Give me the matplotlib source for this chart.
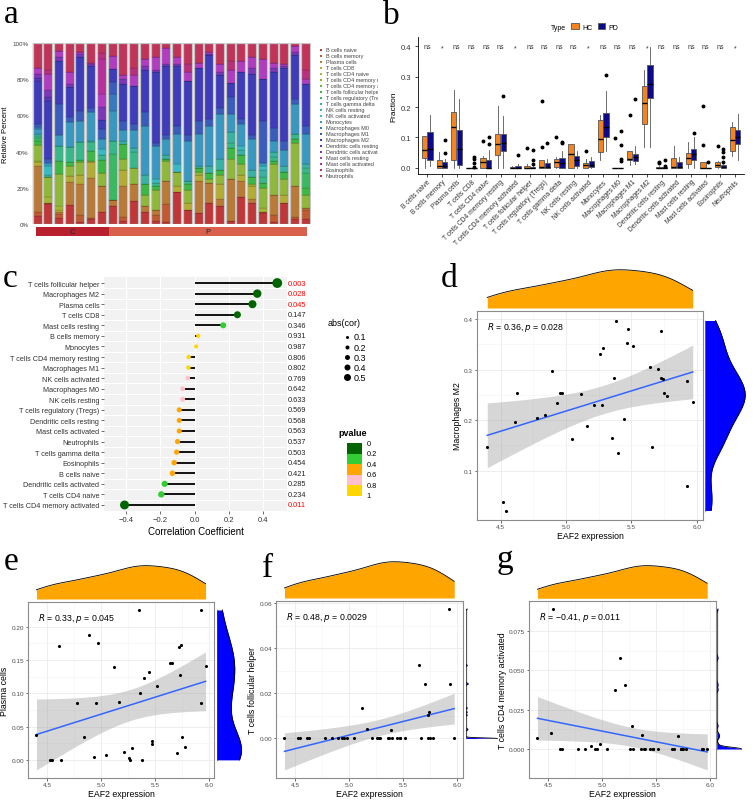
import numpy as np
import matplotlib.pyplot as plt
from matplotlib.patches import Rectangle, Patch

plt.rcParams['font.family'] = ['Liberation Sans', 'DejaVu Sans']
plt.rcParams['path.simplify'] = False

W, H = 753, 804

# ---------------- data ----------------
cell_types = ["B cells naive", "B cells memory", "Plasma cells", "T cells CD8", "T cells CD4 naive",
              "T cells CD4 memory resting", "T cells CD4 memory activated", "T cells follicular helper",
              "T cells regulatory (Tregs)", "T cells gamma delta", "NK cells resting", "NK cells activated",
              "Monocytes", "Macrophages M0", "Macrophages M1", "Macrophages M2", "Dendritic cells resting",
              "Dendritic cells activated", "Mast cells resting", "Mast cells activated", "Eosinophils",
              "Neutrophils"]
cell_colors = ["#c0373a", "#c05a32", "#b87a36", "#b4ad34", "#a5b634", "#8fb83a", "#63b83c", "#3db844",
               "#3ab862", "#38b88a", "#38b2a2", "#38bac2", "#3898c0", "#3878bc", "#3a5cbc", "#3e3cb8",
               "#5838b8", "#7c38b8", "#b03cc0", "#b8309c", "#b8307c", "#c0345a"]

# panel a: relative percent of each cell type in the 26 samples
sample_group = ["C"] * 7 + ["P"] * 19
pct_b_naive = [4.8, 11, 3.3, 10.6, 1, 3, 7.2, 10.3, 2, 13, 7, 2, 1, 18, 8, 6, 12, 10, 2, 15, 12, 6, 1, 12, 3, 3]
pct_b_memory = [2.2, 0.5, 2.4, 0, 4, 0.5, 0, 0, 2, 0, 0, 3, 10, 0, 0, 0, 0, 0, 0, 0, 0, 1, 4, 0, 1, 5]
pct_plasma = [25.3, 0, 0.9, 12.8, 17.4, 22, 14.5, 3.1, 17, 9, 3, 3, 13, 0, 0, 18, 11, 4, 23, 9, 2, 0, 11, 0, 17, 1]
pct_cd8 = [1.8, 0.5, 1.3, 3.3, 4.6, 8.6, 0, 0, 9, 0, 0, 0, 0, 3, 4, 3, 0, 8, 0, 3, 7, 0, 0, 4, 0, 0]
pct_cd4_naive = [0.9, 3, 2, 0, 0, 0, 0, 0, 0, 0, 0, 0, 0, 0, 0, 0, 0, 0, 0, 0, 0, 2, 0, 0, 0, 0]
pct_cd4_mem_rest = [8.6, 11, 17.8, 5.5, 7.3, 1, 7.3, 0, 6, 9, 6, 11, 11, 8, 7, 2, 2, 5, 11, 6, 1, 11, 17, 9, 24, 7]
pct_cd4_mem_act = [0] * 26
pct_tfh = [2.4, 0, 7.3, 1.8, 1, 5.5, 7, 0, 8, 0, 6, 2, 1, 0, 3, 2, 3, 3, 6, 5, 4, 3, 2, 4, 2, 4]
pct_tregs = [1.6, 0, 0, 0, 0, 0, 0, 25.3, 0, 0, 0, 0, 0, 0, 0, 0, 0, 0, 0, 0, 0, 0, 0, 0, 0, 8]
pct_gamma_delta = [1.1, 0, 8.3, 8.3, 10, 4.5, 3.1, 7.3, 0, 9, 0, 2, 0, 0, 2, 0, 0, 0, 3, 0, 0, 3, 2, 0, 3, 3]
pct_nk_rest = [0.9, 1, 0, 0, 0, 1, 0, 0, 2, 2, 5, 0, 2, 0, 0, 1, 4, 6, 6, 3, 4, 4, 3, 3, 0, 2]
pct_nk_act = [0, 5, 0, 0, 0, 0, 3.3, 0, 0, 0, 0, 2, 0, 4, 0, 0, 0, 0, 0, 2, 0, 2, 0, 0, 0, 0]
pct_monocytes = [3.1, 2, 5.9, 14.1, 11.9, 16, 5.5, 16.5, 6, 10, 27, 18, 9, 17, 22, 18, 22, 25, 10, 12, 17, 2, 6, 9, 16, 17]
pct_m0 = [0.9, 0, 0, 0, 0, 0, 0, 9.2, 0, 0, 0, 0, 0, 0, 0, 0, 0, 0, 0, 0, 0, 0, 0, 0, 0, 0]
pct_m1 = [1.5, 2, 17, 2.8, 5.5, 2.2, 5.5, 6.4, 5, 3, 8, 2, 2, 4, 3, 7, 4, 3, 9, 3, 2, 23, 7, 5, 3, 4]
pct_m2 = [23.9, 32, 23.9, 16.5, 29.4, 22.6, 5.5, 7.3, 20, 21, 23, 39, 38, 33, 30, 29, 35, 18, 8, 26, 34, 23, 31, 40, 24, 23]
pct_dc_rest = [1.3, 2, 0, 0, 0, 0, 0, 0, 0, 0, 0, 0, 0, 0, 0, 0, 0, 0, 0, 0, 0, 0, 0, 0, 0, 0]
pct_dc_act = [2.4, 4, 1.8, 1.5, 1.8, 1.1, 7.3, 0, 3, 0, 2, 1, 1, 1, 0, 0, 1, 2, 0, 0, 3, 0, 2, 1, 2, 0]
pct_mast_rest = [3.1, 9, 3.7, 6.4, 1.3, 1, 7, 7.3, 2, 6, 4, 7, 9, 4, 5, 3, 1, 4, 7, 6, 6, 11, 3, 1, 3, 3]
pct_mast_act = [0, 0, 0, 0, 0, 0, 20, 0, 0, 0, 0, 0, 0, 0, 0, 0, 0, 0, 0, 0, 0, 0, 0, 0, 0, 0]
pct_eosinophils = [0, 2, 0, 0, 0, 0, 3, 0, 0, 4, 0, 0, 0, 0, 4, 0, 0, 0, 5, 0, 0, 0, 0, 0, 0, 5]
pct_neutrophils = [14.1, 15, 4.4, 16.3, 5, 11, 6, 7.2, 18, 14, 9, 8, 3, 8, 12, 11, 5, 12, 10, 10, 8, 9, 11, 12, 2, 15]

# panel b: box statistics (q1, median, q3, lower whisker, upper whisker) + outliers
hc_q1 = [.032, 0, .027, 0, 0, .043, 0, 0, 0, .002, 0, 0, .052, 0, .025, .143, 0, 0, .013, 0, .003, .055]
hc_med = [.060, .005, .135, 0, .018, .080, 0, .001, .002, .020, .045, .008, .095, 0, .030, .212, .001, .004, .032, 0, .008, .093]
hc_q3 = [.106, .025, .183, 0, .032, .112, .004, .006, .026, .030, .077, .016, .158, 0, .056, .270, .004, .032, .048, .020, .020, .135]
hc_lo = [0, 0, 0, 0, 0, 0, 0, 0, 0, 0, 0, 0, .025, 0, .010, .070, 0, 0, 0, 0, 0, .040]
hc_hi = [.106, .052, .255, 0, .040, .205, .006, .012, .026, .035, .077, .030, .175, 0, .056, .320, .006, .073, .085, .020, .022, .152]
hc_out = [[], [], [], [], [.088], [], [], [.067], [.22, .07], [.101], [], [.057], [], [.098], [.174], [],
          [.02, .017], [], [], [.203, .076], [.073], []]
pd_q1 = [.025, 0, .010, 0, 0, .055, 0, 0, 0, 0, .007, .002, .100, 0, .023, .228, 0, 0, .025, 0, 0, .077]
pd_med = [.063, .005, .063, 0, 0, .083, .001, 0, .002, .017, .027, .009, .135, 0, .037, .277, 0, .003, .045, 0, .002, .102]
pd_q3 = [.118, .020, .123, 0, .027, .110, .005, .003, .015, .032, .040, .023, .180, 0, .047, .338, .003, .020, .063, 0, .010, .123]
pd_lo = [.005, 0, 0, 0, 0, 0, 0, 0, 0, 0, 0, 0, .057, 0, .012, .068, 0, 0, 0, 0, 0, .025]
pd_hi = [.175, .030, .225, 0, .060, .170, .012, .006, .030, .055, .055, .035, .252, 0, .072, .397, .005, .037, .100, 0, .012, .178]
pd_out = [[], [.048, .093], [], [.035, .03, .015, .004], [.1, .08], [.236], [.041], [.058, .025, .013], [.083],
          [.085, .082], [], [], [.306], [.122, .074, .029, .022], [.226], [], [.027, .007], [], [.115], [.018],
          [.063, .052, .035, .02], []]
signif = ["ns", "*", "ns", "ns", "ns", "ns", "*", "ns", "ns", "ns", "ns", "*", "ns", "ns", "ns", "*", "ns",
          "ns", "ns", "ns", "ns", "*"]

# panel c: correlation of EAF2 with each cell type
cor_names = ["T cells follicular helper", "Macrophages M2", "Plasma cells", "T cells CD8", "Mast cells resting",
             "B cells memory", "Monocytes", "T cells CD4 memory resting", "Macrophages M1", "NK cells activated",
             "Macrophages M0", "NK cells resting", "T cells regulatory (Tregs)", "Dendritic cells resting",
             "Mast cells activated", "Neutrophils", "T cells gamma delta", "Eosinophils", "B cells naive",
             "Dendritic cells activated", "T cells CD4 naive", "T cells CD4 memory activated"]
cor_values = [0.483, 0.366, 0.338, 0.25, 0.167, 0.021, 0.009, -0.035, -0.036, -0.04, -0.07, -0.07, -0.09,
              -0.09, -0.09, -0.10, -0.105, -0.12, -0.13, -0.175, -0.195, -0.41]
cor_pvalues = [0.003, 0.028, 0.045, 0.147, 0.346, 0.931, 0.987, 0.806, 0.802, 0.769, 0.642, 0.633, 0.569,
               0.568, 0.563, 0.537, 0.503, 0.454, 0.421, 0.285, 0.234, 0.011]
p_breaks = [0, 0.2, 0.4, 0.6, 0.8, 1]
p_colors = ["#006400", "#32CD32", "#FFA500", "#FFC0CB", "#FFD700"]

# panels d-g: EAF2 expression vs cell fractions (37 samples)
eaf2 = [4.398, 4.521, 4.540, 4.607, 4.629, 4.776, 4.838, 4.890, 4.930, 4.952, 4.973, 5.044, 5.118, 5.161,
        5.213, 5.257, 5.272, 5.287, 5.355, 5.364, 5.380, 5.398, 5.444, 5.469, 5.472, 5.515, 5.641, 5.659,
        5.703, 5.724, 5.730, 5.739, 5.749, 5.776, 5.924, 5.927, 5.970]
macro_m2 = [0.147, 0.038, 0.021, 0.196, 0.253, 0.204, 0.210, 0.298, 0.234, 0.254, 0.254, 0.162, 0.252,
            0.189, 0.229, 0.330, 0.230, 0.342, 0.165, 0.283, 0.397, 0.135, 0.203, 0.353, 0.381, 0.347,
            0.305, 0.147, 0.302, 0.283, 0.376, 0.281, 0.253, 0.248, 0.069, 0.277, 0.235]
plasma = [0.037, 0.0, 0.0, 0.171, 0.0, 0.086, 0.034, 0.188, 0.004, 0.085, 0.175, 0.008, 0.139, 0.087, 0.012,
          0.003, 0.0, 0.018, 0.225, 0.101, 0.0, 0.123, 0.132, 0.029, 0.024, 0.111, 0.145, 0.146, 0.010,
          0.169, 0.128, 0.172, 0.034, 0.019, 0.225, 0.085, 0.141]
tfh = [0, 0, 0, 0, 0, 0, 0, 0, 0, 0, 0, 0, 0.0135, 0.0042, 0, 0, 0, 0, 0, 0, 0.0039, 0, 0, 0, 0, 0, 0.0324,
       0, 0.0242, 0.0104, 0, 0.0117, 0, 0, 0.0573, 0.0243, 0]
cd4_mem_act = [0.007, 0.0099, 0.089, 0, 0, 0, 0, 0.0018, 0, 0, 0.0033, 0, 0.0378, 0.058, 0.041, 0, 0.0148,
               0, 0, 0.0088, 0, 0, 0, 0, 0, 0, 0, 0, 0.008, 0, 0, 0, 0, 0, 0, 0, 0]
stat_r = ["0.36", "0.33", "0.48", "\u22120.41"]
stat_p = ["0.028", "0.045", "0.0029", "0.011"]


def rect(l, t, r, b):
    return [l / W, 1 - b / H, (r - l) / W, (b - t) / H]


fig = plt.figure(figsize=(W / 100, H / 100), dpi=100)

letter_font = dict(family=['Liberation Serif', 'DejaVu Serif'], fontsize=24)
for lab, x, y in [("a", 4, 23), ("b", 383, 24), ("c", 3, 287), ("d", 441, 287), ("e", 4, 570),
                  ("f", 262, 577), ("g", 497, 568)]:
    fig.text(x / W, 1 - y / H, lab, va='baseline', ha='left', **letter_font)

# ---------------- a: stacked bars ----------------
comp = np.array([pct_b_naive, pct_b_memory, pct_plasma, pct_cd8, pct_cd4_naive, pct_cd4_mem_rest,
                 pct_cd4_mem_act, pct_tfh, pct_tregs, pct_gamma_delta, pct_nk_rest, pct_nk_act,
                 pct_monocytes, pct_m0, pct_m1, pct_m2, pct_dc_rest, pct_dc_act, pct_mast_rest,
                 pct_mast_act, pct_eosinophils, pct_neutrophils], dtype=float)
comp = comp / comp.sum(axis=0)
n_samp = comp.shape[1]
idx = np.arange(n_samp)

ax_a = fig.add_axes(rect(31.7, 43.7, 310.7, 225.3))
bottom = np.zeros(n_samp)
for k in range(len(cell_types)):
    ax_a.bar(idx, comp[k], bottom=bottom, width=0.84, color=cell_colors[k],
             edgecolor=(0, 0, 0, 0.3), linewidth=0.3)
    bottom += comp[k]
ax_a.bar(idx, np.ones(n_samp), width=0.84, fill=False, edgecolor='#c4c4c4', linewidth=0.9)
ax_a.set_xlim(-0.5, n_samp - 0.5)
ax_a.set_ylim(0, 1)
ax_a.set_xticks([])
ax_a.set_yticks([0, 0.2, 0.4, 0.6, 0.8, 1.0])
ax_a.set_yticklabels(["0%", "20%", "40%", "60%", "80%", "100%"])
ax_a.tick_params(axis='y', length=0, labelsize=4.5, labelcolor='#444444', pad=2)
ax_a.set_ylabel("Relative Percent", fontsize=5.5, labelpad=3)
for s in ax_a.spines.values():
    s.set_visible(False)

ax_grp = fig.add_axes(rect(36, 227.7, 306.7, 236.7))
grp_col = {"C": "#b8202e", "P": "#d9604c"}
ax_grp.bar(idx, np.ones(n_samp), width=1.0, color=[grp_col[g] for g in sample_group], linewidth=0)
for g in ["C", "P"]:
    members = [i for i, v in enumerate(sample_group) if v == g]
    ax_grp.text(np.mean(members), 0.5, g, ha='center', va='center', fontsize=5.5, color='#222222')
ax_grp.set_xlim(-0.5, n_samp - 0.5)
ax_grp.set_ylim(0, 1)
ax_grp.axis('off')

ax_al = fig.add_axes(rect(316, 45, 378, 190))
ax_al.set_xlim(316, 378)
ax_al.set_ylim(190, 45)
ax_al.axis('off')
for i, (name, col) in enumerate(zip(cell_types, cell_colors)):
    yy = 50.7 + i * 6.0
    ax_al.add_patch(Rectangle((319.5, yy - 1.1), 2.4, 2.2, color=col, lw=0))
    ax_al.text(326, yy, name, fontsize=4, va='center', ha='left', color='#444444', clip_on=True)

# ---------------- b: boxplots ----------------
ax_b = fig.add_axes(rect(418.5, 38, 743.8, 175))
pos = np.arange(1, len(cell_types) + 1)


def make_stats(q1, med, q3, lo, hi, out):
    return [dict(q1=a, med=b, q3=c, whislo=d, whishi=e, fliers=f)
            for a, b, c, d, e, f in zip(q1, med, q3, lo, hi, out)]


for st, off, col in [(make_stats(hc_q1, hc_med, hc_q3, hc_lo, hc_hi, hc_out), -0.19, "#F5841F"),
                     (make_stats(pd_q1, pd_med, pd_q3, pd_lo, pd_hi, pd_out), 0.19, "#0B0B8A")]:
    ax_b.bxp(st, positions=pos + off, widths=0.36, patch_artist=True, showcaps=False,
             boxprops=dict(facecolor=col, edgecolor='#555555', linewidth=0.6),
             medianprops=dict(color='black', linewidth=1.0),
             whiskerprops=dict(color='#555555', linewidth=0.6),
             flierprops=dict(marker='o', markersize=1.8, markerfacecolor='black', markeredgecolor='black'))
for p, s in zip(pos, signif):
    ax_b.text(p, 0.40 if s == "ns" else 0.395, s, ha='center', va='center', fontsize=5, color='#333333')
ax_b.set_xlim(0.4, len(cell_types) + 0.6)
ax_b.set_ylim(-0.02, 0.43)
ax_b.set_xticks(pos)
ax_b.set_xticklabels(cell_types, rotation=45, ha='right', rotation_mode='anchor', fontsize=4.8,
                     color='#333333')
ax_b.set_yticks([0, 0.1, 0.2, 0.3, 0.4])
ax_b.set_yticklabels(["0.0", "0.1", "0.2", "0.3", "0.4"])
ax_b.tick_params(axis='y', labelsize=5.5, length=2, width=0.5, labelcolor='#333333')
ax_b.tick_params(axis='x', length=2, width=0.5, pad=1)
ax_b.set_ylabel("Fraction", fontsize=6, labelpad=2)
ax_b.spines['top'].set_visible(False)
ax_b.spines['right'].set_visible(False)
for s in ['left', 'bottom']:
    ax_b.spines[s].set_linewidth(0.6)
fig.text(551 / W, 1 - 28 / H, "Type", fontsize=5, va='center', ha='left')
ax_b.legend([Patch(facecolor="#F5841F", edgecolor='#555555', lw=0.6),
             Patch(facecolor="#0B0B8A", edgecolor='#555555', lw=0.6)], ["HC", "PD"],
            ncol=2, loc='center left', bbox_to_anchor=(568 / W, 1 - 28 / H), bbox_transform=fig.transFigure,
            frameon=False, fontsize=5, handlelength=1.1, handleheight=0.9, handletextpad=0.4,
            columnspacing=0.8, borderpad=0)

# ---------------- c: lollipop ----------------
def p_color(p):
    for k in range(len(p_colors)):
        if p < p_breaks[k + 1] or k == len(p_colors) - 1:
            return p_colors[k]


def dot_size(r):
    return ((4 + 12 * abs(r)) * 0.72) ** 2


ax_c = fig.add_axes(rect(104, 277.7, 287, 512.3))
ax_c.set_facecolor('#F2F2F2')
rows = np.arange(len(cor_names))
ax_c.hlines(rows, 0, cor_values, color='black', lw=1.3, zorder=3)
ax_c.scatter(cor_values, rows, s=[dot_size(r) for r in cor_values], c=[p_color(p) for p in cor_pvalues],
             zorder=4, linewidths=0)
ax_c.set_xlim(-0.53, 0.54)
ax_c.set_ylim(len(cor_names) - 0.4, -0.6)
ax_c.set_xticks([-0.4, -0.2, 0.0, 0.2, 0.4])
ax_c.set_xticklabels(["\u22120.4", "\u22120.2", "0.0", "0.2", "0.4"])
ax_c.set_yticks(rows)
ax_c.set_yticklabels(cor_names)
ax_c.set_yticks(rows[:-1] + 0.5, minor=True)
ax_c.grid(axis='x', which='major', color='white', lw=0.8, zorder=0)
ax_c.grid(axis='y', which='minor', color='white', lw=0.8, zorder=0)
ax_c.set_axisbelow(True)
ax_c.tick_params(axis='both', which='major', length=2, width=0.5, color='#333333')
ax_c.tick_params(axis='y', which='minor', length=0)
ax_c.tick_params(axis='y', labelsize=5.2, labelcolor='#333333', pad=1.5)
ax_c.tick_params(axis='x', labelsize=5.5, labelcolor='#333333', pad=1.5)
ax_c.set_xlabel("Correlation Coefficient", fontsize=7, labelpad=2)
for s in ax_c.spines.values():
    s.set_visible(False)
for r, p in zip(rows, cor_pvalues):
    ax_c.text(1.005, r, "%.3f" % p, transform=ax_c.get_yaxis_transform(), fontsize=5.3, va='center',
              ha='left', color='#FF0000' if p < 0.05 else '#222222', clip_on=False)

ax_cl = fig.add_axes(rect(322, 310, 378, 505))
ax_cl.set_xlim(322, 378)
ax_cl.set_ylim(505, 310)
ax_cl.axis('off')
ax_cl.text(328, 323.5, "abs(cor)", fontsize=6.5, va='center', ha='left')
for i, v in enumerate([0.1, 0.2, 0.3, 0.4, 0.5]):
    ax_cl.scatter([347], [338 + i * 10.1], s=((2 + 10 * v) * 0.72) ** 2, color='black', linewidths=0)
    ax_cl.text(353.5, 338 + i * 10.1, "%.1f" % v, fontsize=6.5, va='center', ha='left')
ax_cl.text(338, 433, "pvalue", fontsize=6.5, fontweight='bold', va='center', ha='left')
for i, col in enumerate(p_colors):
    ax_cl.add_patch(Rectangle((346.5, 444 + i * 10.6), 15, 10.6, color=col, lw=0))
for i, b in enumerate(p_breaks):
    ax_cl.text(366.5, 444 + i * 10.6, "%g" % b, fontsize=5.3, va='center', ha='left')


# ---------------- d-g: scatter with marginal densities ----------------
def kde(v, grid):
    v = np.asarray(v, dtype=float)
    n = len(v)
    q25, q75 = np.percentile(v, [25, 75])
    lo = min(v.std(ddof=1), (q75 - q25) / 1.34)
    if lo == 0:
        lo = 0.05 * v.std(ddof=1)  # almost all zeros -> spike, as drawn in the original
    bw = 0.9 * lo * n ** -0.2
    z = (grid[:, None] - v[None, :]) / bw
    return np.exp(-0.5 * z ** 2).sum(axis=1) / (n * bw * np.sqrt(2 * np.pi))


def scatter_panel(r_main, r_top, r_right, yv, ylabel, rtxt, ptxt, yticks, yfmt):
    x = np.array(eaf2)
    y = np.array(yv, dtype=float)
    n = len(x)
    ax = fig.add_axes(rect(*r_main))
    slope, icpt = np.polyfit(x, y, 1)
    xs = np.linspace(x.min(), x.max(), 100)
    fit = icpt + slope * xs
    resid = y - (icpt + slope * x)
    s = np.sqrt((resid ** 2).sum() / (n - 2))
    se = s * np.sqrt(1 / n + (xs - x.mean()) ** 2 / ((x - x.mean()) ** 2).sum())
    t = 2.03  # t(0.975, df=35)
    ax.fill_between(xs, fit - t * se, fit + t * se, color='#999999', alpha=0.4, lw=0, zorder=2)
    ax.plot(xs, fit, color='#3366FF', lw=1.1, zorder=3)
    ax.scatter(x, y, s=5, color='black', lw=0, zorder=4)
    ax.set_xticks([4.5, 5.0, 5.5, 6.0])
    ax.set_xticks([4.75, 5.25, 5.75], minor=True)
    ax.set_yticks(yticks)
    ax.set_yticklabels([yfmt % v for v in yticks])
    ax.set_yticks([(a + b) / 2 for a, b in zip(yticks[:-1], yticks[1:])], minor=True)
    ax.grid(which='major', color='#EBEBEB', lw=0.6, zorder=0)
    ax.grid(which='minor', color='#F4F4F4', lw=0.4, zorder=0)
    ax.set_axisbelow(True)
    ax.tick_params(which='major', length=1.8, width=0.5, color='#333333', labelsize=4.6, labelcolor='#4D4D4D',
                   pad=1)
    ax.tick_params(which='minor', length=0)
    for sp in ax.spines.values():
        sp.set_color('#8C8C8C')
        sp.set_linewidth(0.8)
    ax.set_xlabel("EAF2 expression", fontsize=6.3, labelpad=1.5)
    ax.set_ylabel(ylabel, fontsize=6.3, labelpad=1.5)
    ax.annotate(r"$\it{R}$ = " + rtxt + r", $\it{p}$ = " + ptxt, xy=(0, 1), xycoords='axes fraction',
                xytext=(7, -11), textcoords='offset points', fontsize=6.3, va='center', ha='left')

    axt = fig.add_axes(rect(*r_top))
    gx = np.linspace(x.min(), x.max(), 400)
    dx = kde(x, gx)
    axt.fill_between(gx, 0, dx, color='#FFA500', lw=0)
    axt.plot(gx, dx, color='black', lw=0.6)
    axt.set_xlim(ax.get_xlim())
    axt.set_ylim(0, dx.max() * 1.02)
    axt.axis('off')

    axr = fig.add_axes(rect(*r_right))
    gy = np.linspace(y.min(), y.max(), 6000)
    dy = kde(y, gy)
    axr.plot([0, 0], [y.min(), y.max()], color='#999999', lw=1.0, zorder=1)
    axr.fill_betweenx(gy, 0, dy, color='#0000FF', lw=0, zorder=2)
    axr.plot(dy, gy, color='black', lw=0.6, zorder=3)
    axr.set_ylim(ax.get_ylim())
    axr.set_xlim(0, dy.max() * 1.02)
    axr.axis('off')


scatter_panel((477, 312, 703, 521), (477, 270, 703, 309), (705, 312, 746, 521), macro_m2, "Macrophages M2",
              stat_r[0], stat_p[0], [0.1, 0.2, 0.3, 0.4], "%.1f")
scatter_panel((28, 603, 214, 779), (28, 566, 214, 600), (216.7, 603, 242, 779), plasma, "Plasma cells",
              stat_r[1], stat_p[1], [0.0, 0.05, 0.10, 0.15, 0.20], "%.2f")
scatter_panel((276, 602, 462.7, 779), (276, 562, 462.7, 599), (466, 602, 498, 779), tfh,
              "T cells follicular helper", stat_r[2], stat_p[2], [0.0, 0.02, 0.04, 0.06], "%.2f")
scatter_panel((529, 602, 715.7, 779), (529, 566, 715.7, 599.3), (717, 602, 742, 779), cd4_mem_act,
              "T cells CD4 memory activated", stat_r[3], stat_p[3], [0.0, 0.025, 0.05, 0.075], "%.3f")

fig.savefig("out.png", dpi=100)
